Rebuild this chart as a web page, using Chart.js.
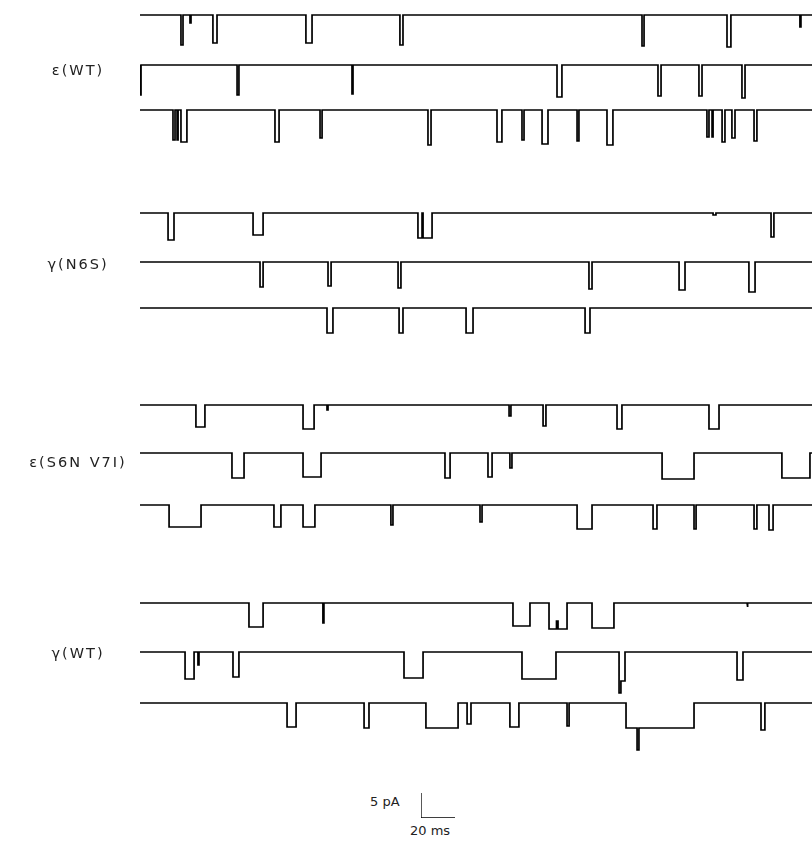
<!DOCTYPE html>
<html>
<head>
<meta charset="utf-8">
<script src="https://cdn.jsdelivr.net/npm/chart.js@4/dist/chart.umd.min.js"></script>
<style>
  html, body { margin: 0; padding: 0; background: #fff; }
  body { width: 812px; height: 842px; position: relative; overflow: hidden; font-family: "DejaVu Sans", "Liberation Sans", sans-serif; color: #222; }
  .trace { position: absolute; left: 140px; }
  .lbl { position: absolute; font-size: 14.5px; letter-spacing: 2px; word-spacing: 1px; text-align: center; width: 160px; white-space: nowrap; }
  .sb { position: absolute; font-size: 13px; white-space: nowrap; }
</style>
</head>
<body>
<script>
// ---- DATA (times in ms, amplitudes in pA; each event = [open start, open end, amplitude]) ----
const TRACE_MS = 395.3;
const groupLabels = ["\u03B5(WT)", "\u03B3(N6S)", "\u03B5(S6N V7I)", "\u03B3(WT)"];

const epsWT_1 = [[24.1,25.3,6.0],[29.4,30.0,1.6],[42.9,45.3,5.6],[97.6,101.2,5.6],[152.9,154.7,6.0],[295.3,296.5,6.2],[345.3,347.6,6.4],[388.2,388.8,2.4]];
const epsWT_2 = [[0,0.6,6.0],[57.1,58.2,6.0],[124.7,125.3,5.8],[245.3,248.2,6.4],[304.7,306.5,6.2],[328.8,330.6,6.2],[354.1,355.9,6.6]];
const epsWT_3 = [[19.4,20.6,6.0],[21.8,22.4,6.0],[24.1,27.6,6.4],[79.4,81.8,6.4],[105.9,107.1,5.6],[169.4,171.2,7.0],[210.0,212.9,6.4],[224.7,225.9,6.0],[236.5,240.0,6.8],[257.1,258.2,6.2],[274.7,278.2,7.0],[333.5,334.7,5.4],[336.5,337.1,5.4],[342.4,344.1,6.4],[348.2,350.0,5.6],[361.2,362.9,6.2]];

const gamN6S_1 = [[16.5,20.0,5.4],[66.5,72.4,4.4],[163.5,165.9,5.0],[166.5,171.8,5.0],[337.1,338.8,0.4],[371.2,372.9,4.8]];
const gamN6S_2 = [[70.6,72.4,5.0],[110.6,112.4,4.8],[151.8,153.5,5.2],[264.1,265.9,5.4],[317.1,320.6,5.6],[358.2,361.8,6.0]];
const gamN6S_3 = [[110.0,113.5,5.0],[152.4,154.7,5.0],[191.8,195.9,5.0],[261.8,264.7,5.0]];

const epsS6N_1 = [[32.9,38.2,4.4],[95.9,102.4,4.8],[110.0,110.6,1.0],[217.1,218.2,2.2],[237.1,238.8,4.2],[280.6,283.5,4.8],[334.7,340.6,4.8]];
const epsS6N_2 = [[54.1,61.2,5.0],[95.9,106.5,4.8],[179.4,182.4,5.0],[204.7,207.1,4.8],[217.6,218.8,3.0],[307.1,325.9,5.2],[377.6,394.1,5.0]];
const epsS6N_3 = [[17.1,35.9,4.4],[78.8,82.9,4.4],[95.9,102.9,4.4],[147.6,148.8,4.0],[200.0,201.2,3.4],[257.1,265.9,4.8],[301.8,304.1,4.8],[325.9,327.1,4.8],[361.2,362.9,4.8],[370.0,372.4,5.0]];

const gamWT_1 = [[64.1,72.4,4.8],[107.6,108.2,4.0],[219.4,229.4,4.6],[240.6,245.0,5.2],[245.0,245.9,3.6],[245.9,251.2,5.2],[265.9,278.8,5.0],[357.1,357.6,0.8]];
const gamWT_2 = [[26.5,31.8,5.4],[34.1,34.7,2.6],[54.7,58.2,5.0],[155.3,166.5,5.2],[224.7,244.7,5.4],[281.8,282.9,8.2],[282.9,285.3,5.8],[351.2,354.7,5.6]];
const gamWT_3 = [[86.5,91.8,4.8],[131.8,134.7,5.0],[168.2,187.1,5.0],[192.4,194.7,4.2],[217.6,222.9,4.8],[251.2,252.4,4.6],[285.9,292.4,5.0],[292.4,293.5,9.4],[293.5,325.9,5.0],[365.3,367.6,5.4]];

const scaleBarPA = 5;
const scaleBarMs = 20;
const scaleBarText = ["5 pA", "20 ms"];

// ---- LAYOUT ----
const traces = [epsWT_1, epsWT_2, epsWT_3, gamN6S_1, gamN6S_2, gamN6S_3, epsS6N_1, epsS6N_2, epsS6N_3, gamWT_1, gamWT_2, gamWT_3];
const baselines = [15, 65, 110, 213, 262, 308, 405, 453, 505, 603, 652, 703];
const labelY = [71, 265, 463, 654];
const PX_PER_MS = 672 / TRACE_MS;
const PX_PER_PA = 5;
const Y_MAX = 1, Y_MIN = -11;

function buildTrace(events) {
  const pts = [{x: 0, y: 0}];
  let prevEnd = -1;
  events.forEach(([s, e, a], i) => {
    if (s > prevEnd) pts.push({x: s, y: 0});
    pts.push({x: s, y: -a});
    pts.push({x: e, y: -a});
    const next = events[i + 1];
    if (!next || next[0] > e) pts.push({x: e, y: 0});
    prevEnd = e;
  });
  pts.push({x: TRACE_MS, y: 0});
  return pts;
}

function makeChart(canvas, data, xmax, ymin, ymax, width) {
  return new Chart(canvas, {
    type: 'line',
    data: { datasets: [{ data: data, borderColor: '#000', borderWidth: width, pointRadius: 0, tension: 0, fill: false, clip: false, borderJoinStyle: 'miter' }] },
    options: {
      responsive: false, animation: false, devicePixelRatio: 1,
      layout: { padding: 0 },
      plugins: { legend: { display: false }, tooltip: { enabled: false } },
      events: [],
      scales: {
        x: { type: 'linear', display: false, min: 0, max: xmax },
        y: { type: 'linear', display: false, min: ymin, max: ymax }
      }
    }
  });
}

const H = (Y_MAX - Y_MIN) * PX_PER_PA;
traces.forEach((ev, i) => {
  const c = document.createElement('canvas');
  c.className = 'trace';
  c.width = 672; c.height = H;
  c.style.width = '672px'; c.style.height = H + 'px';
  c.style.top = (baselines[i] - Y_MAX * PX_PER_PA) + 'px';
  document.body.appendChild(c);
  makeChart(c, buildTrace(ev), TRACE_MS, Y_MIN, Y_MAX, 1.7);
});

groupLabels.forEach((t, i) => {
  const d = document.createElement('div');
  d.className = 'lbl';
  d.textContent = t;
  d.style.left = '-2px';
  d.style.top = (labelY[i] - 9) + 'px';
  document.body.appendChild(d);
});

// scale bar
const sbW = 40, sbH = 30;
const sb = document.createElement('canvas');
sb.width = sbW; sb.height = sbH;
sb.style.position = 'absolute';
sb.style.left = '421px';
sb.style.top = (818 - sbH) + 'px';
document.body.appendChild(sb);
makeChart(sb, [{x: 0, y: scaleBarPA}, {x: 0, y: 0}, {x: scaleBarMs, y: 0}], sbW / PX_PER_MS, 0, sbH / PX_PER_PA, 1.3);

const t1 = document.createElement('div');
t1.className = 'sb'; t1.textContent = scaleBarText[0];
t1.style.left = '370px'; t1.style.top = '794px';
document.body.appendChild(t1);
const t2 = document.createElement('div');
t2.className = 'sb'; t2.textContent = scaleBarText[1];
t2.style.left = '410px'; t2.style.top = '823px';
document.body.appendChild(t2);
</script>
</body>
</html>
